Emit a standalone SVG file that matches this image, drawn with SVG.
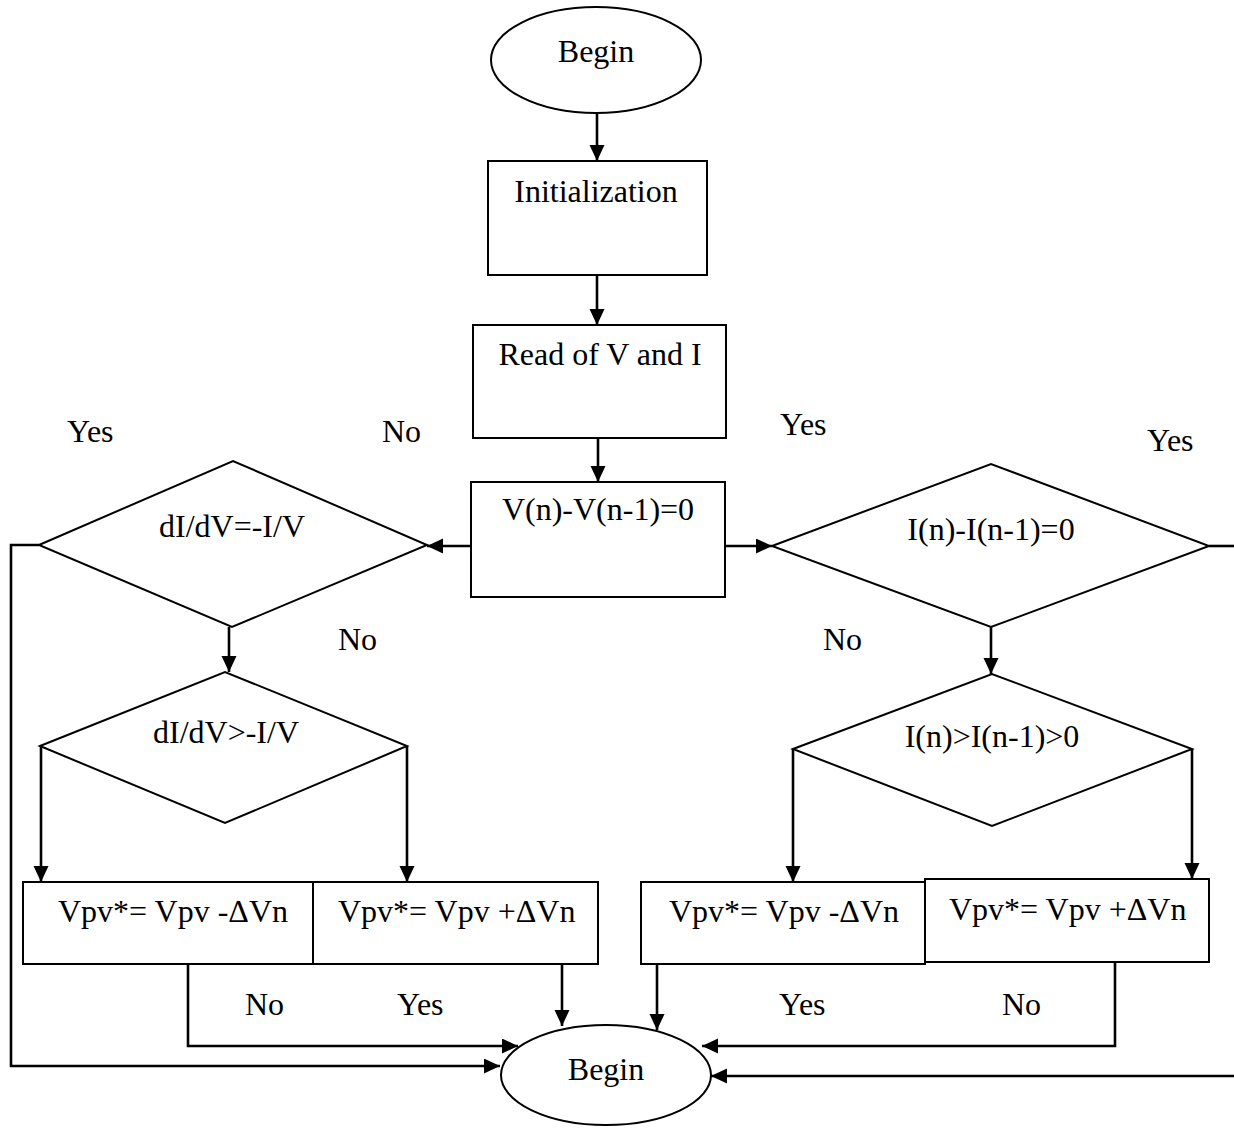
<svg xmlns="http://www.w3.org/2000/svg" width="1234" height="1128" viewBox="0 0 1234 1128">
  <style>
    .shape { fill: #ffffff; stroke: #000000; stroke-width: 2; }
    .conn { fill: none; stroke: #000000; stroke-width: 2.6; }
    .lbl { font-family: "Liberation Serif", "Times New Roman", serif; font-size: 32px; fill: #000000; }
    .mid { text-anchor: middle; }
  </style>
  <defs>
    <marker id="arrow" markerUnits="userSpaceOnUse" markerWidth="17" markerHeight="16" refX="16" refY="7.5" orient="auto">
      <path d="M0,0 L16,7.5 L0,15 Z" fill="#000000"/>
    </marker>
  </defs>
  <rect width="1234" height="1128" fill="#ffffff"/>

  <!-- connectors -->
  <g id="connectors">
    <line class="conn" x1="597" y1="113" x2="597" y2="161" marker-end="url(#arrow)"/>
    <line class="conn" x1="597" y1="275" x2="597" y2="325" marker-end="url(#arrow)"/>
    <line class="conn" x1="598" y1="438" x2="598" y2="482" marker-end="url(#arrow)"/>
    <line class="conn" x1="471" y1="546" x2="427" y2="546" marker-end="url(#arrow)"/>
    <line class="conn" x1="725" y1="546" x2="772" y2="546" marker-end="url(#arrow)"/>
    <polyline class="conn" points="39,545 11,545 11,1066 500,1066" marker-end="url(#arrow)"/>
    <line class="conn" x1="229" y1="627" x2="229" y2="672" marker-end="url(#arrow)"/>
    <line class="conn" x1="41" y1="746" x2="41" y2="882" marker-end="url(#arrow)"/>
    <line class="conn" x1="407" y1="746" x2="407" y2="882" marker-end="url(#arrow)"/>
    <polyline class="conn" points="188,964 188,1046 518,1046" marker-end="url(#arrow)"/>
    <line class="conn" x1="562" y1="962" x2="562" y2="1026" marker-end="url(#arrow)"/>
    <line class="conn" x1="991" y1="627" x2="991" y2="674" marker-end="url(#arrow)"/>
    <line class="conn" x1="793" y1="749" x2="793" y2="882" marker-end="url(#arrow)"/>
    <line class="conn" x1="1192" y1="749" x2="1192" y2="879" marker-end="url(#arrow)"/>
    <line class="conn" x1="657" y1="964" x2="657" y2="1030" marker-end="url(#arrow)"/>
    <polyline class="conn" points="1115,962 1115,1046 702,1046" marker-end="url(#arrow)"/>
    <line class="conn" x1="1209" y1="546" x2="1234" y2="546"/>
    <line class="conn" x1="1234" y1="1076" x2="711" y2="1076" marker-end="url(#arrow)"/>
  </g>

  <!-- branch labels -->
  <g id="labels">
    <text class="lbl" x="67" y="442">Yes</text>
    <text class="lbl" x="382" y="442">No</text>
    <text class="lbl" x="780" y="435">Yes</text>
    <text class="lbl" x="1147" y="451">Yes</text>
    <text class="lbl" x="338" y="650">No</text>
    <text class="lbl" x="823" y="650">No</text>
    <text class="lbl" x="245" y="1015">No</text>
    <text class="lbl" x="397" y="1015">Yes</text>
    <text class="lbl" x="779" y="1015">Yes</text>
    <text class="lbl" x="1002" y="1015">No</text>
  </g>

  <g id="begin-start">
    <ellipse class="shape" cx="596" cy="60" rx="105" ry="53"/>
    <text class="lbl mid" x="596" y="62">Begin</text>
  </g>

  <g id="initialization">
    <rect class="shape" x="488" y="161" width="219" height="114"/>
    <text class="lbl mid" x="596" y="202">Initialization</text>
  </g>

  <g id="read-vi">
    <rect class="shape" x="473" y="325" width="253" height="113"/>
    <text class="lbl mid" x="600" y="365">Read of V and I</text>
  </g>

  <g id="check-dv">
    <rect class="shape" x="471" y="482" width="254" height="115"/>
    <text class="lbl mid" x="598" y="520">V(n)-V(n-1)=0</text>
  </g>

  <g id="check-incond">
    <polygon class="shape" points="39,545 233,461 427,545 232,627"/>
    <text class="lbl mid" x="232" y="537">dI/dV=-I/V</text>
  </g>

  <g id="check-incgt">
    <polygon class="shape" points="40,746 225,672 407,746 225,823"/>
    <text class="lbl mid" x="226" y="743">dI/dV&gt;-I/V</text>
  </g>

  <g id="check-di">
    <polygon class="shape" points="772,546 991,464 1209,546 991,627"/>
    <text class="lbl mid" x="991" y="540">I(n)-I(n-1)=0</text>
  </g>

  <g id="check-digt">
    <polygon class="shape" points="793,749 992,674 1192,749 992,826"/>
    <text class="lbl mid" x="992" y="747">I(n)&gt;I(n-1)&gt;0</text>
  </g>

  <g id="left-dec">
    <rect class="shape" x="23" y="882" width="290" height="82"/>
    <text class="lbl" x="58" y="922">Vpv*= Vpv -ΔVn</text>
  </g>

  <g id="left-inc">
    <rect class="shape" x="313" y="882" width="285" height="82"/>
    <text class="lbl" x="338" y="922">Vpv*= Vpv +ΔVn</text>
  </g>

  <g id="right-dec">
    <rect class="shape" x="641" y="882" width="284" height="82"/>
    <text class="lbl" x="669" y="922">Vpv*= Vpv -ΔVn</text>
  </g>

  <g id="right-inc">
    <rect class="shape" x="925" y="879" width="284" height="83"/>
    <text class="lbl" x="949" y="920">Vpv*= Vpv +ΔVn</text>
  </g>

  <g id="begin-end">
    <ellipse class="shape" cx="606" cy="1075" rx="105" ry="50"/>
    <text class="lbl mid" x="606" y="1080">Begin</text>
  </g>
</svg>
